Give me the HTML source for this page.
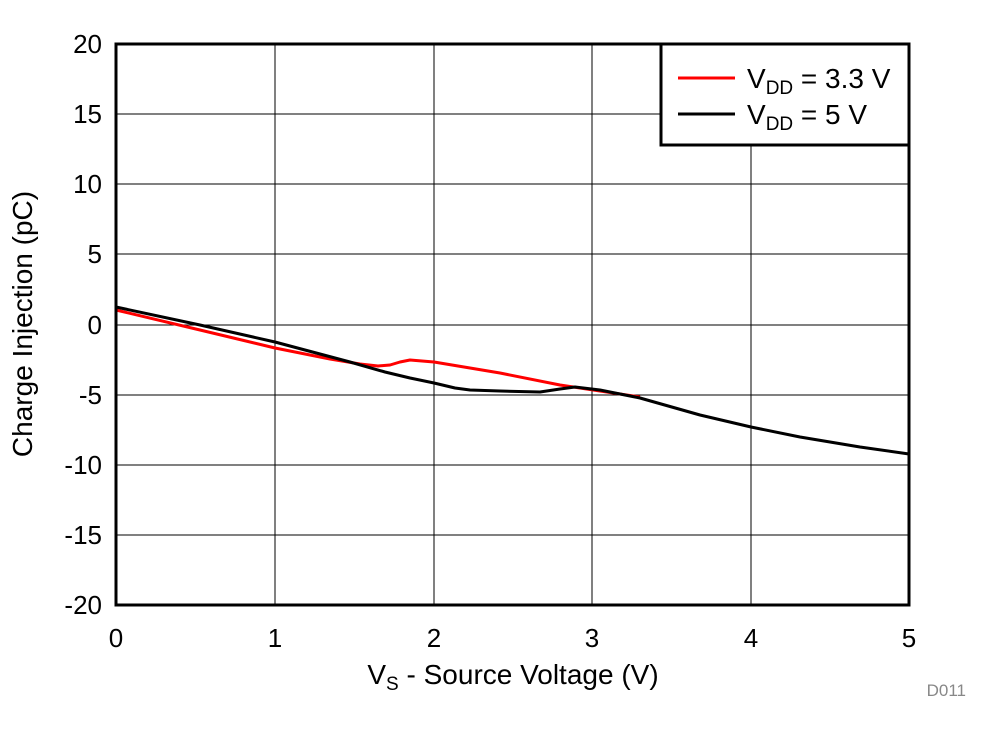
<!DOCTYPE html>
<html><head><style>body{margin:0;background:#fff}</style></head><body>
<svg width="992" height="734" xmlns="http://www.w3.org/2000/svg" font-family="Liberation Sans, Arial, sans-serif">
<rect width="992" height="734" fill="#fff"/>
<g stroke="#000" stroke-width="1">
<line x1="275" y1="44" x2="275" y2="605"/><line x1="434" y1="44" x2="434" y2="605"/><line x1="592" y1="44" x2="592" y2="605"/><line x1="751" y1="44" x2="751" y2="605"/>
<line x1="116" y1="114" x2="909" y2="114"/><line x1="116" y1="184" x2="909" y2="184"/><line x1="116" y1="254" x2="909" y2="254"/><line x1="116" y1="325" x2="909" y2="325"/><line x1="116" y1="395" x2="909" y2="395"/><line x1="116" y1="465" x2="909" y2="465"/><line x1="116" y1="535" x2="909" y2="535"/>
</g>
<polyline fill="none" stroke="#f00" stroke-width="3" stroke-linejoin="round" points="116,310 200,330 275,348 330,359 360,364 378,366 390,365 400,362 410,360 434,362 500,373 560,385 600,391 640,397"/>
<polyline fill="none" stroke="#000" stroke-width="3" stroke-linejoin="round" points="116,307 200,325 275,342 350,362 385,372 410,378 434,383 455,388 470,390 500,391 540,392 560,389 575,387 600,390 640,398 700,415 751,427 800,437 860,447 909,454"/>
<rect x="116" y="44" width="793" height="561" fill="none" stroke="#000" stroke-width="3"/>
<g font-size="26" text-anchor="end">
<text x="102" y="53">20</text><text x="102" y="123">15</text><text x="102" y="193">10</text><text x="102" y="263">5</text><text x="102" y="334">0</text><text x="102" y="404">-5</text><text x="102" y="474">-10</text><text x="102" y="544">-15</text><text x="102" y="614">-20</text>
</g>
<g font-size="26" text-anchor="middle">
<text x="116" y="647">0</text><text x="275" y="647">1</text><text x="434" y="647">2</text><text x="592" y="647">3</text><text x="751" y="647">4</text><text x="909" y="647">5</text>
<text x="513" y="684" font-size="28">V<tspan font-size="19" dy="6">S</tspan><tspan dy="-6"> - Source Voltage (V)</tspan></text>
</g>
<text transform="translate(32,324) rotate(-90)" font-size="28" text-anchor="middle">Charge Injection (pC)</text>
<text x="966" y="696" font-size="17" fill="#888" text-anchor="end">D011</text>
<rect x="661" y="44" width="248" height="101" fill="#fff" stroke="#000" stroke-width="3"/>
<line x1="678" y1="78" x2="735" y2="78" stroke="#f00" stroke-width="3"/>
<line x1="678" y1="114" x2="735" y2="114" stroke="#000" stroke-width="3"/>
<g font-size="28"><text x="747" y="88">V<tspan font-size="19" dy="6">DD</tspan><tspan dy="-6"> = 3.3 V</tspan></text>
<text x="747" y="124">V<tspan font-size="19" dy="6">DD</tspan><tspan dy="-6"> = 5 V</tspan></text></g>
</svg>
</body></html>
